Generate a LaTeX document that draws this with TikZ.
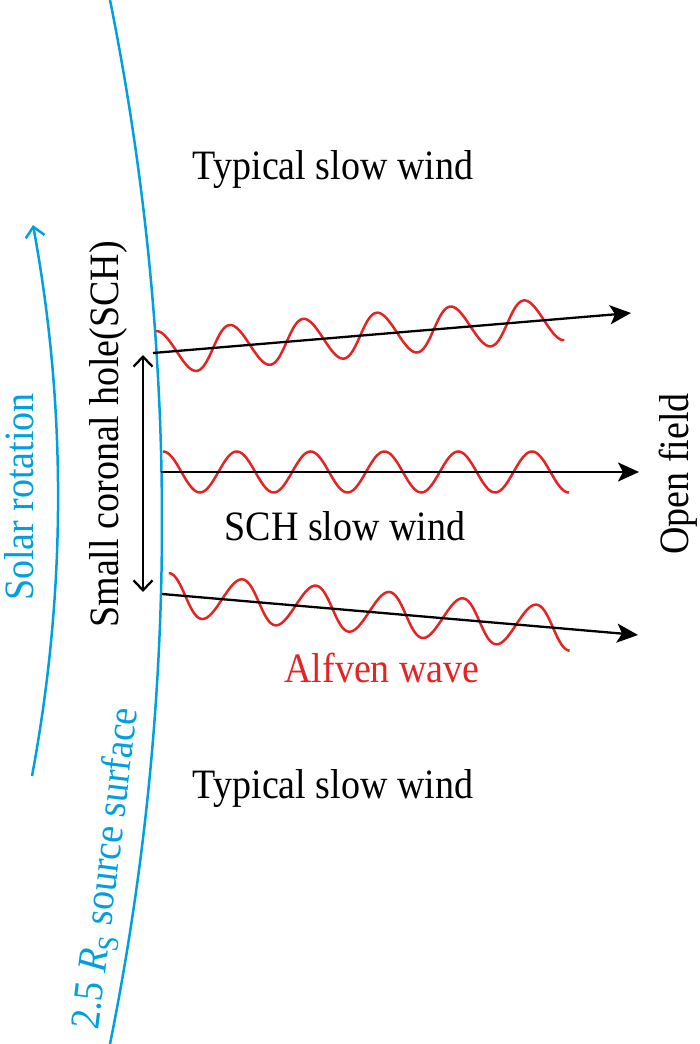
\documentclass[tikz,border=0pt]{standalone}
\usepackage{fontspec}
\setmainfont{Liberation Serif}
\usetikzlibrary{arrows.meta}
\definecolor{sblue}{RGB}{0,160,222}
\definecolor{sred}{RGB}{228,35,35}
\newcommand{\tx}[1]{\scalebox{1}[1.1]{#1}}
\begin{document}
\begin{tikzpicture}[x=1pt,y=1pt,
  lbl/.style={font=\fontsize{38}{40}\selectfont, inner sep=0pt, anchor=base},
  ray/.style={line width=2.3pt, -{Stealth[length=21pt,width=19pt,inset=5pt]}},
  wave/.style={sred, line width=2.5pt},
  surf/.style={sblue, line width=2.5pt},
  barbs/.style={line width=2.3pt, {Straight Barb[length=10pt,width=19pt]}-{Straight Barb[length=10pt,width=19pt]}},
  rot/.style={sblue, line width=2.5pt, -{Straight Barb[length=10pt,width=19pt]}}]
\useasboundingbox (0,0) rectangle (700,1044);

% source surface
\coordinate (S0) at (110,0);
\coordinate (S1) at (110,1044);
\draw[surf] (S0) .. controls (179.3,344.7) and (179.3,699.3) .. (S1);

% solar rotation arrow
\coordinate (R0) at (32,268);
\coordinate (R1) at (33,819);
\draw[rot] (R0) .. controls (66.3,452) and (66.7,636) .. (R1);

% rays
\coordinate (A1) at (153,691);
\coordinate (B1) at (631,731);
\coordinate (A2) at (161,572);
\coordinate (B2) at (639,572);
\coordinate (A3) at (162,450);
\coordinate (B3) at (638,409);

\begin{scope}[shift={(A1)}, rotate=4.78]
\draw[wave] plot[domain=0:406, samples=240, smooth] ({5+\x},{21.5*cos((\x/73.8)*360)});
\end{scope}
\begin{scope}[shift={(A2)}]
\draw[wave] plot[domain=0:406, samples=240, smooth] ({2+\x},{20.5*cos((\x/73.8)*360)});
\end{scope}
\begin{scope}[shift={(A3)}, rotate=-4.92]
\draw[wave] plot[domain=0:406, samples=240, smooth] ({5+\x},{21.5*cos((\x/73.8)*360)});
\end{scope}

\draw[ray] (A1) -- (B1);
\draw[ray] (A2) -- (B2);
\draw[ray] (A3) -- (B3);

% SCH extent
\coordinate (D1) at (143,689);
\coordinate (D2) at (143,452);
\draw[barbs] (D2) -- (D1);

% labels
\node[lbl] (tsw1) at (333,864) {\tx{Typical slow wind}};
\node[lbl] (schw) at (345,503) {\tx{SCH slow wind}};
\node[lbl, text=sred] (alf) at (382,361) {\tx{Alfven wave}};
\node[lbl] (tsw2) at (333,245) {\tx{Typical slow wind}};
\node[lbl, rotate=90] (sch) at (118,609.5) {\tx{Small coronal hole(SCH)}};
\node[lbl, rotate=90, text=sblue] (solrot) at (33,547) {\tx{Solar rotation}};
\node[lbl, rotate=90] (open) at (688,570) {\tx{Open field}};
\node[lbl, rotate=83, text=sblue] (srcs) at (118,174) {\tx{2.5 \textit{R}\textsubscript{S} source surface}};
\end{tikzpicture}
\end{document}
